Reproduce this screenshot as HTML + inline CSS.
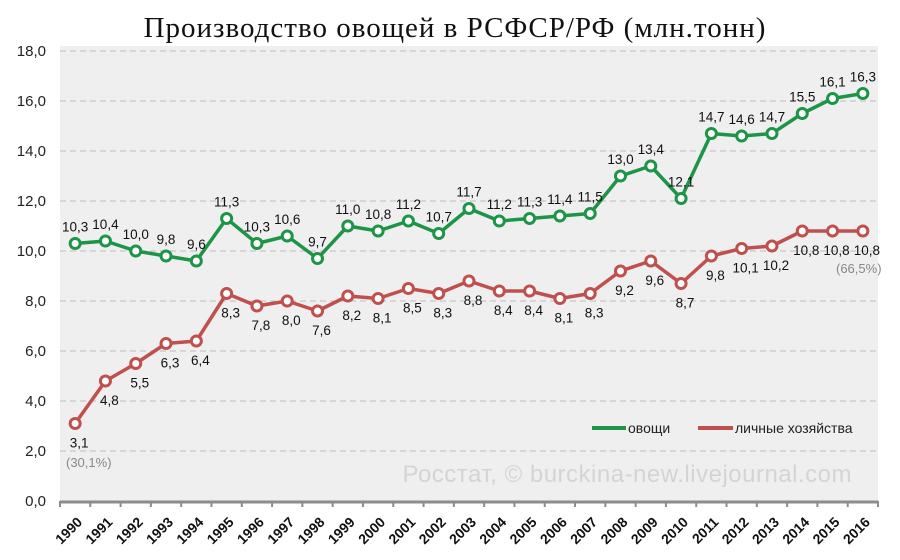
<!DOCTYPE html>
<html><head><meta charset="utf-8"><style>
body{margin:0;background:#fff;font-family:"Liberation Sans",sans-serif}
svg text{font-family:"Liberation Sans","DejaVu Sans",sans-serif}
</style></head><body>
<svg id="c" width="900" height="555" xmlns="http://www.w3.org/2000/svg">
<rect x="0" y="0" width="900" height="555" fill="#fff"/>
<text x="455" y="37" text-anchor="middle" font-size="29" style="font-family:'Liberation Serif',serif;letter-spacing:1px" fill="#111">Производство овощей в РСФСР/РФ (млн.тонн)</text>
<rect x="60" y="46" width="818" height="455" fill="#efefef"/>
<g id="grid"></g>
<text x="852" y="482" text-anchor="end" font-size="24" fill="#d4d4d4" style="letter-spacing:0.5px">Росстат, © burckina-new.livejournal.com</text>
<g id="axes"></g>
<g id="series"></g>
<g>
<line x1="592" y1="428" x2="626" y2="428" stroke="#1e9447" stroke-width="4"/>
<text x="628" y="433" font-size="14" fill="#222">овощи</text>
<line x1="698" y1="428" x2="733" y2="428" stroke="#c0504d" stroke-width="4"/>
<text x="735" y="433" font-size="14" fill="#222">личные хозяйства</text>
</g>
<text x="66" y="467" font-size="13" fill="#888">(30,1%)</text>
<text x="836" y="273" font-size="13" fill="#888">(66,5%)</text>
</svg>
<script>
const years=[1990,1991,1992,1993,1994,1995,1996,1997,1998,1999,2000,2001,2002,2003,2004,2005,2006,2007,2008,2009,2010,2011,2012,2013,2014,2015,2016];
const vegetables=[10.3,10.4,10.0,9.8,9.6,11.3,10.3,10.6,9.7,11.0,10.8,11.2,10.7,11.7,11.2,11.3,11.4,11.5,13.0,13.4,12.1,14.7,14.6,14.7,15.5,16.1,16.3];
const households=[3.1,4.8,5.5,6.3,6.4,8.3,7.8,8.0,7.6,8.2,8.1,8.5,8.3,8.8,8.4,8.4,8.1,8.3,9.2,9.6,8.7,9.8,10.1,10.2,10.8,10.8,10.8];
const yTicks=[0,2,4,6,8,10,12,14,16,18];
const NS="http://www.w3.org/2000/svg";
const L=60,R=878,T=51,B=501,yMax=18;
const bw=(R-L)/years.length;
const x=i=>L+bw*(i+0.5);
const y=v=>B-(v/yMax)*(B-T);
const fmt=v=>v.toFixed(1).replace('.',',');
function mk(tag,attrs,parent){const e=document.createElementNS(NS,tag);for(const k in attrs)e.setAttribute(k,attrs[k]);parent.appendChild(e);return e;}
const grid=document.getElementById('grid'),axes=document.getElementById('axes'),ser=document.getElementById('series');
yTicks.forEach(t=>{
  if(t>0){const g=mk('line',{x1:L,x2:R,y1:y(t),y2:y(t),stroke:'#bdbdbd','stroke-dasharray':'6,4'},grid);
  
  }
  const tx=mk('text',{x:L-14,y:y(t)+5,'text-anchor':'end','font-size':15,fill:'#222'},axes);
  tx.textContent=fmt(t);
  
  
});
const ax=mk('line',{x1:L,x2:R,y1:B+1,y2:B+1,stroke:'#8c8c8c','stroke-width':3},axes);


for(let i=0;i<=years.length;i++){const tk=mk('line',{x1:L+bw*i,x2:L+bw*i,y1:B,y2:B+6,stroke:'#8c8c8c','stroke-width':2},axes);

}
years.forEach((yr,i)=>{
  const tx=mk('text',{x:x(i)+8,y:B+22,'text-anchor':'end','font-size':14,'font-weight':'bold',fill:'#111',transform:`rotate(-45 ${x(i)+8} ${B+22})`},axes);
  tx.textContent=yr;
  
  
});
function series(vals,color,name,above){
  const pl=mk('polyline',{points:vals.map((v,i)=>x(i)+','+y(v)).join(' '),fill:'none',stroke:color,'stroke-width':3.5,'stroke-linejoin':'round'},ser);
  
  
  vals.forEach((v,i)=>{
    const c=mk('circle',{cx:x(i),cy:y(v),r:5,fill:'#fff',stroke:color,'stroke-width':3},ser);
    
    
    const t=mk('text',{x:x(i)+(above?0:4),y:above?y(v)-12:y(v)+24,'text-anchor':'middle','font-size':13.5,fill:'#111'},ser);
    t.textContent=fmt(v);
    
    
  });
}
series(vegetables,'#1e9447','vegetables',true);
series(households,'#c0504d','households',false);
</script>
</body></html>
